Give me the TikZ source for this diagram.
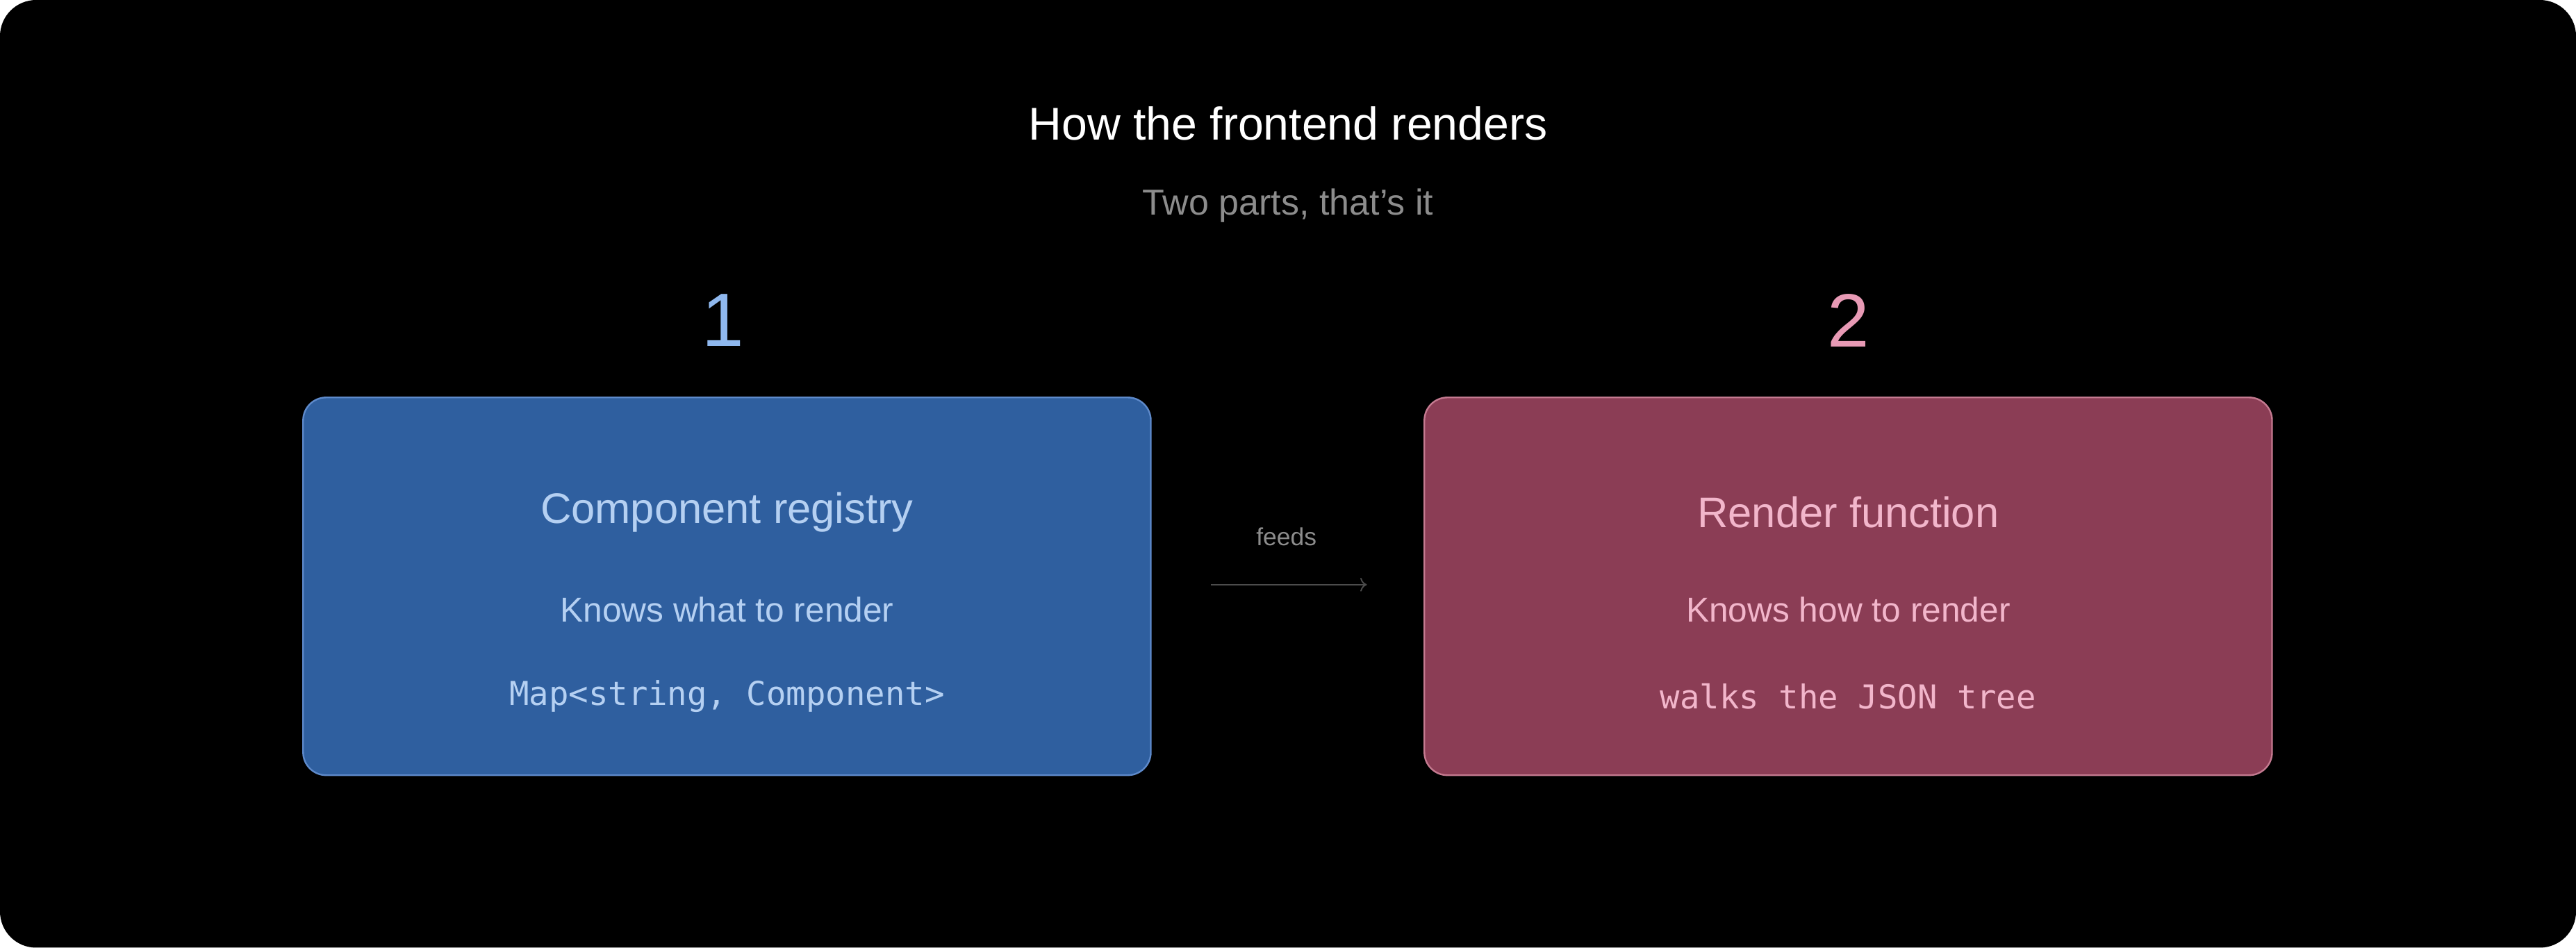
\documentclass[tikz,border=0pt]{standalone}
\usepackage{fontspec}
\setmainfont{Liberation Sans}
\setmonofont{DejaVu Sans Mono}
\usetikzlibrary{arrows.meta, positioning}
\definecolor{bluefill}{HTML}{2F5F9F}
\definecolor{blueline}{HTML}{5E8ACB}
\definecolor{bluetext}{HTML}{B5D0F2}
\definecolor{bluenum}{HTML}{8FB8EE}
\definecolor{redfill}{HTML}{8B3D55}
\definecolor{redline}{HTML}{C47A90}
\definecolor{redtext}{HTML}{F2B6CB}
\definecolor{rednum}{HTML}{E89AB5}
\definecolor{subgray}{HTML}{8C8C8C}
\tikzset{
  part/.style={draw, rounded corners=14pt, line width=1pt, minimum width=516pt, minimum height=230pt},
  head/.style={font=\fontsize{26}{30}\selectfont},
  note/.style={font=\fontsize{21}{25}\selectfont},
  code/.style={font=\ttfamily\fontsize{20}{24}\selectfont},
  num/.style={font=\fontsize{46}{52}\selectfont}
}
\begin{document}
\begin{tikzpicture}[x=1pt, y=-1pt]
    \useasboundingbox (0,0) rectangle (1568,577);
    \fill[white] (0,0) rectangle (1568,577);
    \fill[black, rounded corners=22pt] (0,0) rectangle (1568,577);

    \node[white, font=\fontsize{28}{32}\selectfont] (title) at (784,75) {How the frontend renders};
    \node[subgray, font=\fontsize{22}{26}\selectfont] (sub) at (784,125) {Two parts, that's it};

    \node[part, fill=bluefill, draw=blueline] (reg) at (442.5,357) {};
    \node[part, fill=redfill, draw=redline] (fun) at (1125,357) {};

    \node[num, bluenum] (one) at (440,195) {1};
    \node[num, rednum] (two) at (1125,195) {2};

    \node[head, bluetext] (regh) at (442.5,312) {Component registry};
    \node[note, bluetext] (regn) at (442.5,371) {Knows what to render};
    \node[code, bluetext] (regc) at (442.5,424) {Map<string, Component>};

    \node[head, redtext] (funh) at (1125,312) {Render function};
    \node[note, redtext] (funn) at (1125,371) {Knows how to render};
    \node[code, redtext] (func) at (1125,424) {walks the JSON tree};

    \coordinate (fa) at (737,356);
    \coordinate (fb) at (832,356);
    \draw[-{To[length=4pt]}, draw=gray!60!black, line width=0.8pt] (fa) -- (fb);
    \node[subgray, font=\fontsize{15}{18}\selectfont] (feeds) at (783,327) {feeds};
\end{tikzpicture}
\end{document}
